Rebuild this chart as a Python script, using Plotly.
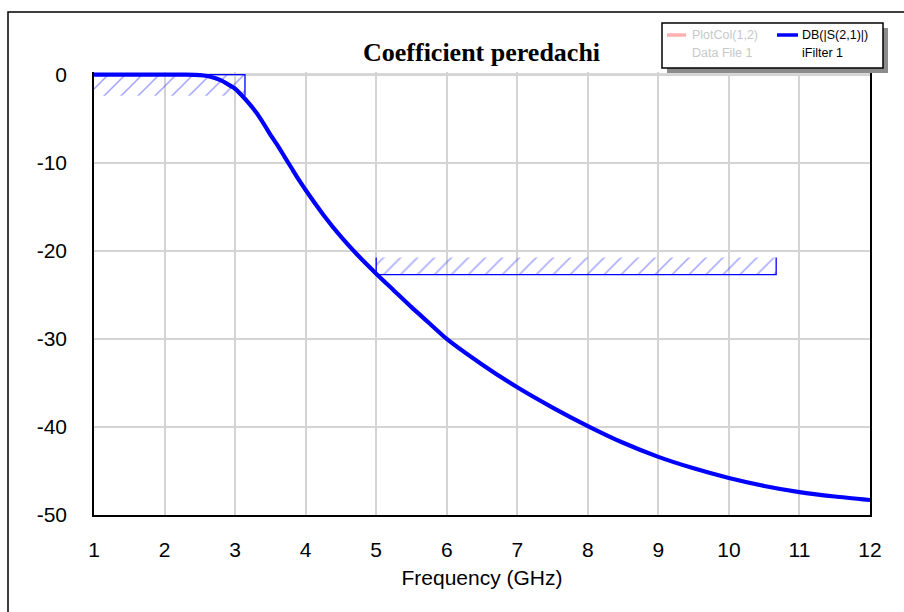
import plotly.graph_objects as go

# ---- data ----
freq_ghz = [1.0, 1.5, 2.0, 2.3, 2.5, 2.6, 2.7, 2.8, 2.9, 3.0, 3.1, 3.2, 3.3, 3.4, 3.5,
            3.6, 3.7, 3.8, 3.9, 4.0, 4.25, 4.5, 4.75, 5.0, 5.25, 5.5, 5.75, 6.0,
            6.5, 7.0, 7.5, 8.0, 8.5, 9.0, 9.5, 10.0, 10.5, 11.0, 11.5, 12.0]
s21_db = [0.0, 0.0, 0.0, 0.0, -0.05, -0.15, -0.35, -0.65, -1.1, -1.6, -2.4, -3.3, -4.3, -5.5, -6.8,
          -8.0, -9.3, -10.6, -11.9, -13.1, -15.9, -18.4, -20.6, -22.6, -24.5, -26.4, -28.2, -30.0,
          -32.9, -35.5, -37.8, -39.9, -41.8, -43.4, -44.7, -45.8, -46.7, -47.4, -47.9, -48.3]

# pass-band mask (hatched below the limit line)
mask1_x = [1.0, 3.14, 3.14, 1.0, 1.0]
mask1_y = [0.0, 0.0, -2.4, -2.4, 0.0]
mask1_edge_x = [1.0, 3.14, 3.14]
mask1_edge_y = [0.0, 0.0, -2.4]

# stop-band mask (hatched above the limit line)
mask2_x = [5.0, 10.67, 10.67, 5.0, 5.0]
mask2_y = [-22.7, -22.7, -20.75, -20.75, -22.7]
mask2_edge_x = [5.0, 5.0, 10.67, 10.67]
mask2_edge_y = [-20.75, -22.7, -22.7, -20.75]

x_ticks = list(range(1, 13))
y_ticks = [0, -10, -20, -30, -40, -50]

title_text = "Coefficient peredachi"
x_title = "Frequency (GHz)"
legend_entries = [("PlotCol(1,2)", "Data File 1"), ("DB(|S(2,1)|)", "iFilter 1")]

BLUE = "#0000ff"
HATCH = "rgba(50,50,255,0.9)"

fig = go.Figure()

for mx, my in [(mask1_x, mask1_y), (mask2_x, mask2_y)]:
    fig.add_trace(go.Scatter(
        x=mx, y=my, mode="lines", fill="toself",
        fillcolor="rgba(0,0,0,0)",
        fillpattern=dict(shape="/", fgcolor=HATCH, bgcolor="rgba(0,0,0,0)",
                         size=12, solidity=0.13),
        line=dict(width=0, color="rgba(0,0,0,0)"),
        hoverinfo="skip", showlegend=False))

for ex, ey in [(mask1_edge_x, mask1_edge_y), (mask2_edge_x, mask2_edge_y)]:
    fig.add_trace(go.Scatter(x=ex, y=ey, mode="lines",
                             line=dict(color=BLUE, width=1.3),
                             hoverinfo="skip", showlegend=False))

fig.add_trace(go.Scatter(x=freq_ghz, y=s21_db, mode="lines",
                         line=dict(color=BLUE, width=4.2, shape="spline", smoothing=0.6),
                         showlegend=False))

FONT = "Liberation Sans, Arial, sans-serif"

fig.update_layout(
    width=904, height=612,
    margin=dict(l=94, r=34, t=72, b=97),
    paper_bgcolor="white", plot_bgcolor="white",
    showlegend=False,
    font=dict(family=FONT, color="black"),
)

fig.update_xaxes(
    range=[1, 12], tickvals=x_ticks, ticktext=[str(v) for v in x_ticks],
    showgrid=True, gridcolor="#d4d4d4", gridwidth=1.5,
    showline=True, linecolor="black", linewidth=1.5, mirror=False,
    zeroline=False, ticks="", ticklabelstandoff=15,
    tickfont=dict(size=21, family=FONT, color="black"),
    title=dict(text=x_title, font=dict(size=21, family=FONT, color="black"), standoff=10),
)
fig.update_yaxes(
    range=[-50, 0.3], tickvals=y_ticks, ticktext=[str(v) for v in y_ticks],
    showgrid=True, gridcolor="#d4d4d4", gridwidth=1.5,
    showline=True, linecolor="black", linewidth=1.5, mirror=True,
    zeroline=False, ticks="", ticklabelstandoff=21,
    tickfont=dict(size=21, family=FONT, color="black"),
)

shapes = []
# top frame line of plot (gray) at 0 dB
shapes.append(dict(type="line", xref="paper", yref="y", x0=0, x1=1, y0=0, y1=0,
                   line=dict(color="#6e6e6e", width=2), layer="below"))
# outer window frame
shapes.append(dict(type="rect", xref="paper", yref="paper",
                   x0=-86 / 776, x1=1.2, y0=-0.3, y1=1 + 60 / 443,
                   line=dict(color="black", width=1.5), fillcolor="rgba(0,0,0,0)"))

# legend box (in paper coords relative to plot area)
def px_x(px):
    return (px - 94) / 776

def px_y(py):
    return (515 - py) / 443

shapes.append(dict(type="rect", xref="paper", yref="paper",
                   x0=px_x(667), x1=px_x(888), y0=px_y(73), y1=px_y(28),
                   line=dict(width=0), fillcolor="#8c8c8c"))
shapes.append(dict(type="rect", xref="paper", yref="paper",
                   x0=px_x(662), x1=px_x(883), y0=px_y(68), y1=px_y(23),
                   line=dict(color="black", width=1.5), fillcolor="white"))
shapes.append(dict(type="line", xref="paper", yref="paper",
                   x0=px_x(667), x1=px_x(686), y0=px_y(35), y1=px_y(35),
                   line=dict(color="#ffb0b0", width=3.5)))
shapes.append(dict(type="line", xref="paper", yref="paper",
                   x0=px_x(777), x1=px_x(798), y0=px_y(35), y1=px_y(35),
                   line=dict(color=BLUE, width=3.5)))
fig.update_layout(shapes=shapes)

annotations = [
    dict(text=f"<b>{title_text}</b>", xref="paper", yref="paper",
         x=px_x(481), y=px_y(53), showarrow=False, xanchor="center", yanchor="middle",
         font=dict(family="Liberation Serif, Times New Roman, serif", size=26, color="black")),
]
leg_cols = [(690, "#c8c8c8"), (800, "black")]
for (name, src), (lx, col) in zip(legend_entries, leg_cols):
    annotations.append(dict(text=name, xref="paper", yref="paper", x=px_x(lx), y=px_y(35),
                            showarrow=False, xanchor="left", yanchor="middle",
                            font=dict(family=FONT, size=12.5, color=col)))
    annotations.append(dict(text=src, xref="paper", yref="paper", x=px_x(lx), y=px_y(53),
                            showarrow=False, xanchor="left", yanchor="middle",
                            font=dict(family=FONT, size=12.5, color=col)))
fig.update_layout(annotations=annotations)

fig.write_html("out.html")
